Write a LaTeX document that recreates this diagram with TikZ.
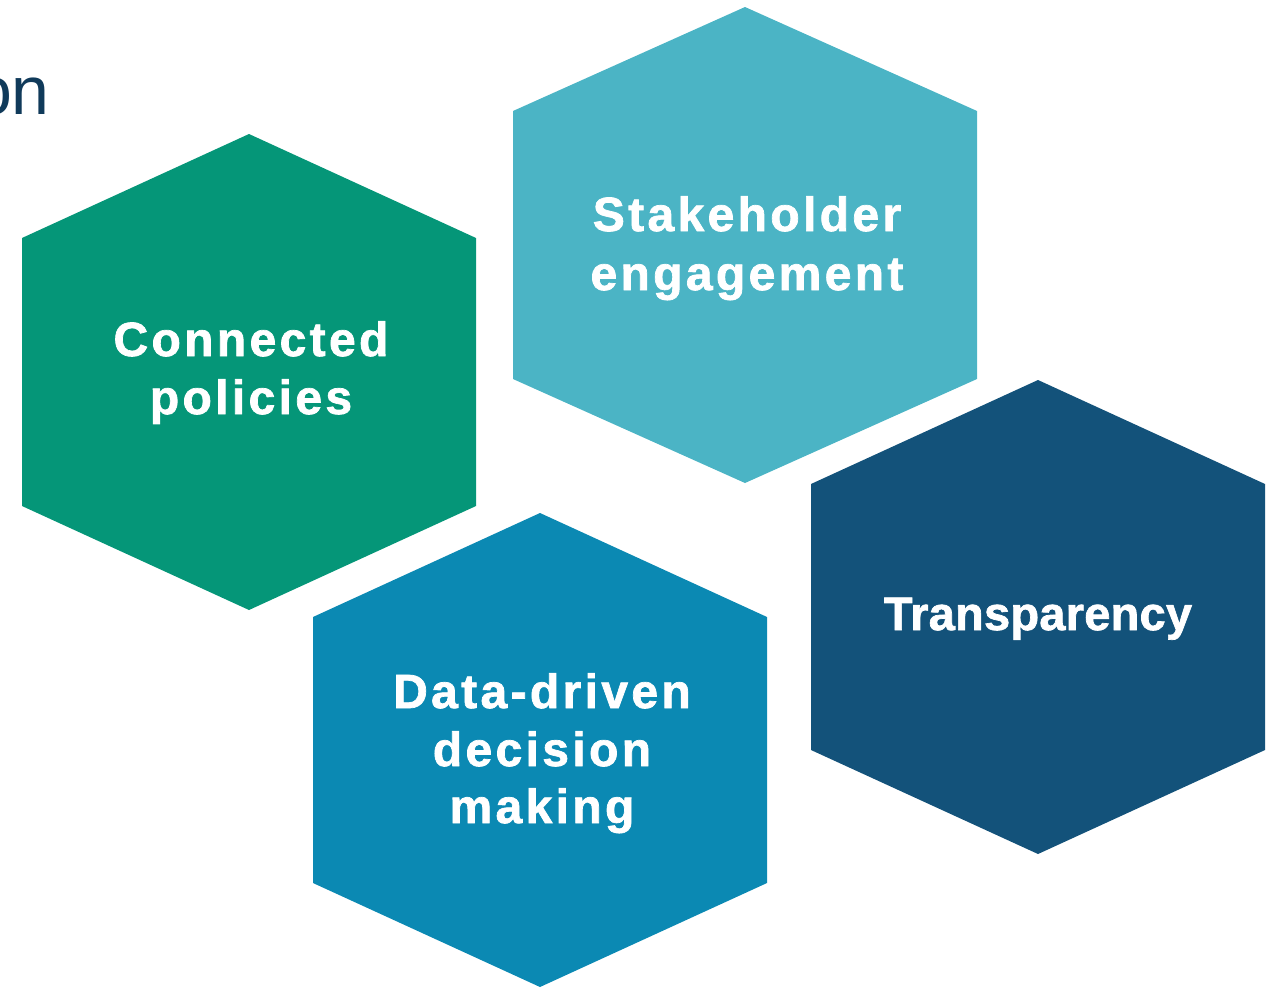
\documentclass[tikz,border=0pt]{standalone}
\usepackage{fontspec}
\setmainfont{Liberation Sans}
\newfontfamily\hexfont{Liberation Sans}[LetterSpace=7,FakeBold=1.5]
\newfontfamily\hexfontT{Liberation Sans}[LetterSpace=0.5,FakeBold=1.5]
\definecolor{hexgreen}{RGB}{5,150,120}
\definecolor{hexteal}{RGB}{75,180,197}
\definecolor{hexnavy}{RGB}{19,82,122}
\definecolor{hexblue}{RGB}{11,137,179}
\definecolor{titlenavy}{RGB}{16,58,90}
\tikzset{
  hexlabel/.style={anchor=base, inner sep=0pt, text=white, font=\hexfont\bfseries\fontsize{48}{58}\selectfont},
  hexlabelT/.style={anchor=base, inner sep=0pt, text=white, font=\hexfontT\bfseries\fontsize{47}{58}\selectfont},
}
\newcommand{\hexagon}[5]{% color, cx, cy, halfwidth, halfheight
  \fill[#1] (#2,#3-#5) -- (#2+#4,#3-#5+104) -- (#2+#4,#3+#5-104) -- (#2,#3+#5)
    -- (#2-#4,#3+#5-104) -- (#2-#4,#3-#5+104) -- cycle;}
\begin{document}
\begin{tikzpicture}[x=1pt,y=-1pt]
\useasboundingbox (0,0) rectangle (1268,988);
\hexagon{hexgreen}{249}{372}{227}{238}
\hexagon{hexteal}{745}{245}{232}{238}
\hexagon{hexnavy}{1038}{617}{227}{237}
\hexagon{hexblue}{540}{750}{227}{237}
\node[anchor=base east, inner sep=0pt, text=titlenavy, font=\fontsize{68}{80}\selectfont] (title) at (50,114) {on};
\node[hexlabel] (cp1) at (251,356) {Connected};
\node[hexlabel] (cp2) at (251,414) {policies};
\node[hexlabel] (se1) at (747,231) {Stakeholder};
\node[hexlabel] (se2) at (747,290) {engagement};
\node[hexlabelT] (tr1) at (1038,630) {Transparency};
\node[hexlabel] (dd1) at (542,708) {Data-driven};
\node[hexlabel] (dd2) at (542,766) {decision};
\node[hexlabel] (dd3) at (542,823) {making};
\end{tikzpicture}
\end{document}
